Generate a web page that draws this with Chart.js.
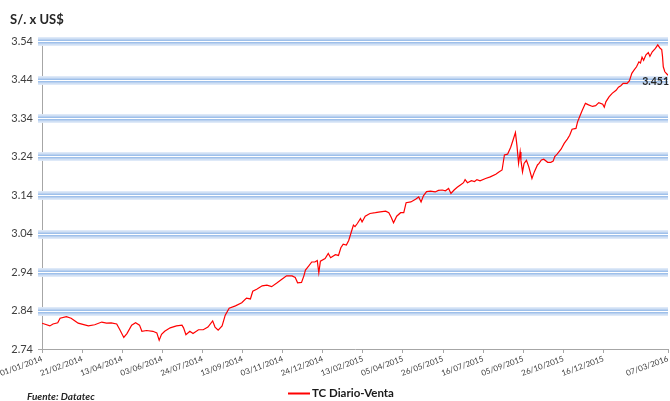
<!DOCTYPE html>
<html>
<head>
<meta charset="utf-8">
<script src="https://cdn.jsdelivr.net/npm/chart.js@4.4.1/dist/chart.umd.min.js"></script>
<style>
  html, body { margin: 0; padding: 0; background: #ffffff; }
  #wrap { width: 670px; height: 401px; position: relative; }
</style>
</head>
<body>
<div id="wrap"><canvas id="c" width="670" height="401"></canvas></div>
<script>
// Exchange rate, soles per US dollar (daily sale rate)
// Days are counted from 01/01/2014
const dayOffsets = [
  0, 10, 14, 20, 23, 31, 37, 42, 46, 59, 67, 76, 82, 88, 95, 99, 104, 108, 114, 119,
  124, 127, 133, 141, 146, 149, 152, 156, 163, 171, 178, 180, 183, 188, 192, 199, 205, 211, 217, 220,
  224, 229, 233, 238, 246, 254, 260, 265, 268, 273, 280, 286, 292, 299, 305, 311, 318, 322, 325, 330,
  333, 335, 339, 343, 347, 350, 352, 354, 360, 364, 367, 373, 377, 380, 383, 387, 390, 393, 396, 398,
  401, 405, 407, 411, 417, 424, 430, 437, 441, 444, 447, 451, 456, 460, 463, 469, 475, 479, 482, 485,
  489, 494, 500, 504, 509, 513, 517, 520, 524, 528, 532, 536, 538, 541, 546, 550, 553, 557, 564, 570,
  577, 581, 585, 588, 592, 596, 599, 602, 604, 606, 608, 609, 611, 613, 616, 619, 623, 626, 630, 632,
  635, 638, 643, 647, 650, 652, 655, 660, 664, 668, 671, 674, 679, 681, 684, 687, 691, 695, 700, 704,
  708, 713, 715, 717, 721, 725, 730, 733, 736, 739, 744, 747, 750, 753, 756, 759, 761, 763, 765, 768,
  771, 773, 776, 780, 783, 786, 788, 789, 790, 792, 796
];
const rates = [
  2.807, 2.800, 2.805, 2.808, 2.820, 2.824, 2.820, 2.813, 2.807, 2.800, 2.803, 2.810, 2.807, 2.808, 2.805, 2.790, 2.770, 2.780, 2.802, 2.808,
  2.802, 2.786, 2.788, 2.786, 2.782, 2.763, 2.778, 2.786, 2.795, 2.800, 2.802, 2.795, 2.777, 2.786, 2.780, 2.790, 2.790, 2.797, 2.813, 2.797,
  2.789, 2.800, 2.828, 2.846, 2.852, 2.860, 2.872, 2.870, 2.890, 2.895, 2.904, 2.906, 2.902, 2.912, 2.921, 2.930, 2.930, 2.926, 2.912, 2.913,
  2.930, 2.945, 2.955, 2.966, 2.966, 2.970, 2.938, 2.968, 2.975, 2.988, 2.977, 2.985, 2.983, 3.003, 3.012, 3.010, 3.022, 3.042, 3.062, 3.058,
  3.066, 3.079, 3.070, 3.085, 3.092, 3.094, 3.096, 3.098, 3.094, 3.082, 3.068, 3.085, 3.094, 3.094, 3.120, 3.122, 3.129, 3.135, 3.122, 3.138,
  3.149, 3.150, 3.148, 3.152, 3.153, 3.151, 3.157, 3.144, 3.153, 3.160, 3.166, 3.172, 3.180, 3.172, 3.177, 3.175, 3.180, 3.177, 3.183, 3.187,
  3.194, 3.200, 3.205, 3.244, 3.246, 3.264, 3.283, 3.302, 3.267, 3.222, 3.252, 3.230, 3.200, 3.222, 3.230, 3.213, 3.183, 3.200, 3.218, 3.222,
  3.231, 3.233, 3.225, 3.225, 3.228, 3.240, 3.246, 3.259, 3.274, 3.285, 3.295, 3.311, 3.313, 3.330, 3.345, 3.360, 3.378, 3.374, 3.370, 3.372,
  3.380, 3.376, 3.368, 3.382, 3.395, 3.404, 3.412, 3.420, 3.424, 3.430, 3.430, 3.437, 3.456, 3.465, 3.473, 3.486, 3.483, 3.498, 3.490, 3.504,
  3.510, 3.500, 3.512, 3.521, 3.530, 3.521, 3.518, 3.500, 3.473, 3.460, 3.451
];

const xTickDays = [0, 51, 102, 153, 204, 255, 306, 357, 408, 459, 510, 561, 612, 663, 714, 796];
const xTickLabels = [
  '01/01/2014', '21/02/2014', '13/04/2014', '03/06/2014', '24/07/2014', '13/09/2014', '03/11/2014', '24/12/2014',
  '13/02/2015', '05/04/2015', '26/05/2015', '16/07/2015', '05/09/2015', '26/10/2015', '16/12/2015', '07/03/2016'
];
const yTickValues = [2.74, 2.84, 2.94, 3.04, 3.14, 3.24, 3.34, 3.44, 3.54];

const seriesName = 'TC Diario-Venta';
const axisTitle = 'S/. x US$';
const sourceNote = 'Fuente: Datatec';
const lineColor = '#ff0000';
const FONT = 'Lato, "Open Sans", sans-serif';

// Glowing blue horizontal bands behind the series, one per value tick
const bandPlugin = {
  id: 'glowBands',
  beforeDatasetsDraw(chart) {
    const { ctx, chartArea: a, scales: { y } } = chart;
    const layers = [
      [9, 'rgba(220,232,248,0.95)'],
      [6, '#c3d7f2'],
      [3.5, '#9ec0ea'],
      [1, '#ffffff']
    ];
    ctx.save();
    ctx.filter = 'blur(0.5px)';
    yTickValues.forEach(v => {
      if (v === y.min) return;
      const py = Math.round(y.getPixelForValue(v)) + 0.5;
      layers.forEach(([w, c]) => {
        ctx.lineWidth = w;
        ctx.strokeStyle = c;
        ctx.beginPath();
        ctx.moveTo(a.left - 4, py);
        ctx.lineTo(a.right, py);
        ctx.stroke();
      });
    });
    ctx.restore();
  }
};

// Axis title, source note, legend and the label on the last value
const textPlugin = {
  id: 'annotations',
  afterDraw(chart) {
    const { ctx } = chart;
    ctx.save();
    ctx.textBaseline = 'middle';

    ctx.fillStyle = '#262626';
    ctx.font = 'bold 13px ' + FONT;
    ctx.textAlign = 'left';
    ctx.fillText(axisTitle, 10, 20);

    ctx.font = 'italic bold 10px ' + FONT;
    ctx.fillText(sourceNote, 27, 397);

    const ds = chart.data.datasets[0];
    ctx.strokeStyle = ds.borderColor;
    ctx.lineWidth = 2;
    ctx.beginPath();
    ctx.moveTo(288, 393.5);
    ctx.lineTo(310, 393.5);
    ctx.stroke();
    ctx.font = 'bold 11.5px ' + FONT;
    ctx.fillStyle = '#1a1a1a';
    ctx.fillText(ds.label, 312, 393);

    const meta = chart.getDatasetMeta(0);
    const last = meta.data[meta.data.length - 1];
    ctx.font = 'bold 10.5px ' + FONT;
    ctx.textAlign = 'right';
    ctx.fillStyle = '#262626';
    ctx.fillText(rates[rates.length - 1].toFixed(3), last.x + 1, last.y + 6);
    ctx.restore();
  }
};

new Chart(document.getElementById('c').getContext('2d'), {
  type: 'line',
  data: {
    datasets: [{
      label: seriesName,
      data: dayOffsets.map((d, i) => ({ x: d, y: rates[i] })),
      borderColor: lineColor,
      borderWidth: 1.2,
      pointRadius: 0,
      tension: 0,
      fill: false
    }]
  },
  options: {
    responsive: false,
    animation: false,
    devicePixelRatio: 1,
    layout: { padding: { top: 41, left: 0, right: 2, bottom: 0 } },
    plugins: {
      legend: { display: false },
      tooltip: { enabled: false },
      title: { display: false }
    },
    scales: {
      x: {
        type: 'linear',
        min: 0,
        max: 796,
        afterBuildTicks: s => { s.ticks = xTickDays.map(v => ({ value: v })); },
        afterFit: s => { s.height = 52; s.paddingLeft = 0; s.paddingRight = 0; },
        ticks: {
          autoSkip: false,
          minRotation: 20,
          maxRotation: 20,
          padding: 1,
          color: '#404040',
          font: { family: FONT, size: 8 },
          callback: v => xTickLabels[xTickDays.indexOf(v)]
        },
        grid: { drawOnChartArea: false, color: '#a6a6a6', tickLength: 4 },
        border: { color: '#a6a6a6' }
      },
      y: {
        min: 2.74,
        max: 3.54,
        afterBuildTicks: s => { s.ticks = yTickValues.map(v => ({ value: v })); },
        afterFit: s => { s.width = 42; },
        ticks: {
          padding: 5,
          color: '#404040',
          font: { family: FONT, size: 11 },
          callback: v => Number(v).toFixed(2)
        },
        grid: { drawOnChartArea: false, color: '#a6a6a6', tickLength: 4 },
        border: { color: '#a6a6a6' }
      }
    }
  },
  plugins: [bandPlugin, textPlugin]
});
</script>
</body>
</html>
